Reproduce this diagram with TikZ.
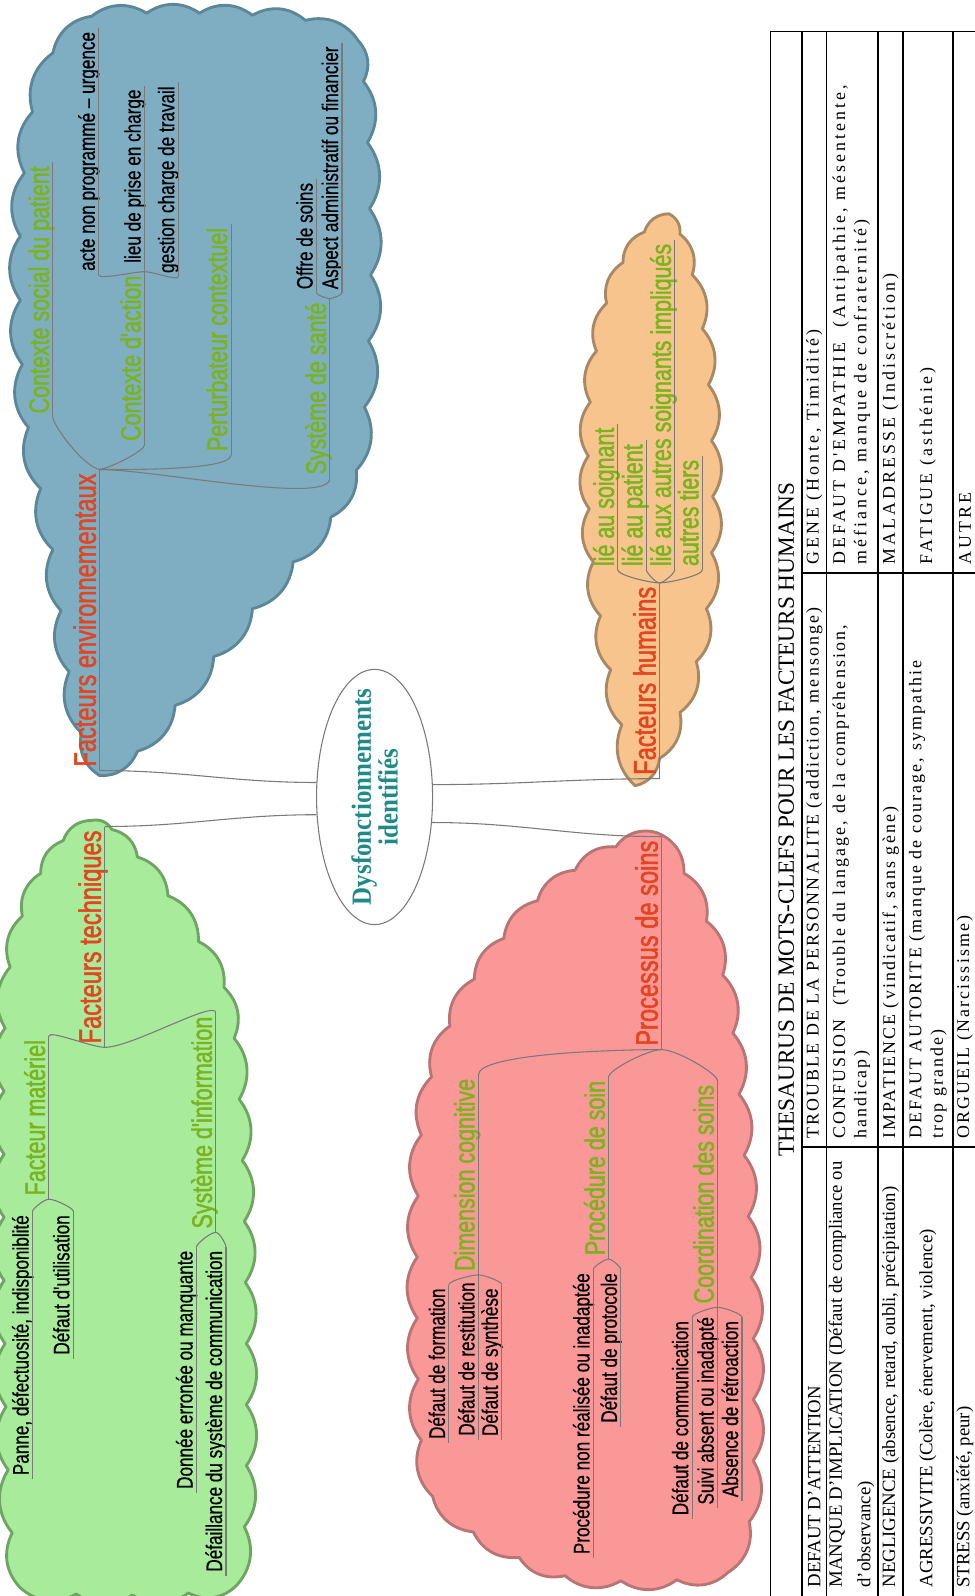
\documentclass[tikz,border=0pt]{standalone}
\usepackage{fontspec}
\setmainfont{Liberation Serif}
\newfontfamily\mapfont[FakeStretch=0.76, FakeBold=0.6]{Liberation Sans}
\newfontfamily\mapfontbold[FakeStretch=0.76, FakeBold=1.6]{Liberation Sans}
\newfontfamily\dysffont[FakeStretch=0.9]{Liberation Serif}
\newfontfamily\midcellfont[LetterSpace=12]{Liberation Serif}
\newfontfamily\widecellfont[LetterSpace=17]{Liberation Serif}
\usetikzlibrary{shapes.geometric}

\definecolor{envfill}{HTML}{7FAEC3}
\definecolor{envline}{HTML}{5C8798}
\definecolor{tecfill}{HTML}{A7EB9B}
\definecolor{tecline}{HTML}{6FA563}
\definecolor{soifill}{HTML}{FA9898}
\definecolor{soiline}{HTML}{B97474}
\definecolor{humfill}{HTML}{F8C48E}
\definecolor{humline}{HTML}{A98963}
\definecolor{mainred}{HTML}{E4441E}
\definecolor{subgreen}{HTML}{7AB41C}
\definecolor{dysfteal}{HTML}{1F8A88}
\definecolor{branchgray}{HTML}{7A7A7A}

\begin{document}
\begin{tikzpicture}[x=0.02cm, y=-0.02cm,
    cloudshape/.style={line width=1.6pt, line join=round},
    lvlone/.style={rotate=90, inner xsep=2pt, inner ysep=0.5pt, text depth=1.5pt, text=mainred,
      font=\mapfontbold\fontsize{17.4}{19}\selectfont},
    lvltwo/.style={rotate=90, inner xsep=2pt, inner ysep=0.5pt, text depth=1.5pt, text=subgreen,
      font=\mapfontbold\fontsize{15.8}{17}\selectfont},
    lvlthree/.style={rotate=90, inner xsep=2pt, inner ysep=0.5pt, text depth=1.5pt, text=black,
      font=\mapfont\fontsize{12.6}{14}\selectfont},
    uline/.style={draw=branchgray, line width=0.6pt},
    goup/.style={out=#1, in=-90, out looseness=0.6, in looseness=0.3},
    godown/.style={out=#1, in=90, out looseness=0.6, in looseness=0.3},
    cell/.style={rotate=90, anchor=west, inner sep=0pt, align=left,
      font=\fontsize{10.5}{15.9}\selectfont},
    tabrule/.style={line width=1.1pt}]

\path[use as bounding box, fill=white] (0,0) rectangle (957,1568);

\begin{scope}
  \draw[cloudshape, draw=envline, fill=envfill] (352,40)
    \foreach \x/\y in {300/20, 248/15, 196/13, 144/13, 90/16, 52/52, 32/110, 24/170, 20/232,
      20/295, 22/358, 28/420, 40/480, 52/540, 60/600, 68/660, 80/720, 98/762, 135/738,
      172/693, 210/645, 248/598, 288/552, 325/508, 350/462, 358/400, 362/335, 364/270,
      363/205, 361/140, 357/80, 352/40} { to[bend right=35] (\x,\y) } -- cycle;
  \draw[cloudshape, draw=tecline, fill=tecfill] (90,806)
    \foreach \x/\y in {62/826, 40/858, 22/900, 10/950, 5/1010, 4/1072, 4/1134, 4/1196,
      4/1258, 5/1320, 6/1382, 8/1444, 12/1506, 20/1560, 75/1566, 130/1567, 185/1565,
      232/1558, 240/1500, 242/1440, 242/1380, 242/1320, 241/1260, 240/1200, 238/1140,
      235/1080, 230/1020, 220/970, 195/925, 165/880, 135/842, 110/815, 90/806}
      { to[bend right=35] (\x,\y) } -- cycle;
  \draw[cloudshape, draw=soiline, fill=soifill] (645,818)
    \foreach \x/\y in {605/832, 565/855, 528/885, 495/922, 466/962, 442/1008, 424/1058,
      414/1115, 411/1175, 410/1235, 410/1295, 411/1355, 414/1415, 425/1470, 465/1505,
      510/1530, 555/1548, 610/1553, 665/1552, 715/1545, 736/1495, 740/1435, 740/1375,
      740/1315, 738/1255, 735/1195, 731/1135, 726/1075, 720/1015, 710/958, 694/905,
      672/858, 645/818} { to[bend right=35] (\x,\y) } -- cycle;
  \draw[cloudshape, draw=humline, fill=humfill] (657,210)
    \foreach \x/\y in {633/228, 612/258, 596/298, 586/345, 580/395, 578/448, 579/500,
      583/552, 590/605, 600/658, 611/712, 624/772, 648/745, 668/700, 684/650, 694/598,
      699/543, 700/488, 699/433, 696/378, 690/323, 680/270, 668/230, 657/210}
      { to[bend right=35] (\x,\y) } -- cycle;
\end{scope}

\node[ellipse, draw=branchgray, line width=0.6pt, fill=white, rotate=90,
  inner xsep=-10pt, inner ysep=0pt,
  minimum width=4.72cm, minimum height=2.28cm, align=center, text=dysfteal,
  font=\dysffont\bfseries\fontsize{15.5}{15}\selectfont] (dysf) at (368,783)
  {Dysfonctionnements\\identifiés};

\begin{scope}
  \node[lvlone, anchor=south west] (fenv) at (98,757) {Facteurs environnementaux};
  \node[lvltwo, anchor=south west] (csoc) at (52,410) {Contexte social du patient};
  \node[lvltwo, anchor=south west] (cact) at (142,437) {Contexte d'action};
  \node[lvltwo, anchor=south west] (pert) at (227,447) {Perturbateur contextuel};
  \node[lvltwo, anchor=south west] (ssan) at (324,470) {Système de santé};
  \node[lvlthree, anchor=south west] (acte) at (97,270) {acte non programmé – urgence};
  \node[lvlthree, anchor=south west] (lieu) at (142,262) {lieu de prise en charge};
  \node[lvlthree, anchor=south west] (gest) at (175,272) {gestion charge de travail};
  \node[lvlthree, anchor=south west] (offr) at (311,288) {Offre de soins};
  \node[lvlthree, anchor=south west] (aspe) at (336,288) {Aspect administratif ou financier};
\end{scope}

\begin{scope}
  \node[lvlone, anchor=south west] (fhum) at (648,765) {Facteurs humains};
  \node[lvltwo, anchor=south west] (lsoi) at (607,560) {lié au soignant};
  \node[lvltwo, anchor=south west] (lpat) at (635,560) {lié au patient};
  \node[lvltwo, anchor=south west] (laut) at (663,560) {lié aux autres soignants impliqués};
  \node[lvltwo, anchor=south west] (ltie) at (690,560) {autres tiers};
\end{scope}

\begin{scope}
  \node[lvlone, anchor=south east] (ftec) at (103,812) {Facteurs techniques};
  \node[lvltwo, anchor=south east] (fmat) at (48,1018) {Facteur matériel};
  \node[lvltwo, anchor=south east] (sinf) at (212,995) {Système d'information};
  \node[lvlthree, anchor=south east] (pann) at (32,1190) {Panne, défectuosité, indisponiblité};
  \node[lvlthree, anchor=south east] (defu) at (72,1190) {Défaut d'utilisation};
  \node[lvlthree, anchor=south east] (donn) at (193,1225) {Donnée erronée ou manquante};
  \node[lvlthree, anchor=south east] (defa) at (222,1225) {Défaillance du système de communication};
\end{scope}

\begin{scope}
  \node[lvlone, anchor=south east] (proc) at (650,822) {Processus de soins};
  \node[lvltwo, anchor=south east] (dimc) at (470,1056) {Dimension cognitive};
  \node[lvltwo, anchor=south east] (pcds) at (598,1058) {Procédure de soin};
  \node[lvltwo, anchor=south east] (coor) at (705,1062) {Coordination des soins};
  \node[lvlthree, anchor=south east] (dfor) at (441,1262) {Défaut de formation};
  \node[lvlthree, anchor=south east] (dres) at (470,1256) {Défaut de restitution};
  \node[lvlthree, anchor=south east] (dsyn) at (493,1262) {Défaut de synthèse};
  \node[lvlthree, anchor=south east] (pnre) at (583,1247) {Procédure non réalisée ou inadaptée};
  \node[lvlthree, anchor=south east] (dpro) at (610,1247) {Défaut de protocole};
  \node[lvlthree, anchor=south east] (dcom) at (680,1294) {Défaut de communication};
  \node[lvlthree, anchor=south east] (suiv) at (705,1290) {Suivi absent ou inadapté};
  \node[lvlthree, anchor=south east] (abse) at (729,1294) {Absence de rétroaction};
\end{scope}

\foreach \n in {fenv,csoc,cact,pert,ssan,acte,lieu,gest,offr,aspe,fhum,lsoi,lpat,laut,ltie,
  ftec,fmat,sinf,pann,defu,donn,defa,proc,dimc,pcds,coor,dfor,dres,dsyn,pnre,dpro,dcom,suiv,abse}
  \draw[uline] (\n.south west) -- (\n.south east);

\begin{scope}[uline]
  \draw (dysf.76) to[out=180, in=0] (fenv.south west);
  \draw (dysf.107) to[out=180, in=0] (ftec.south east);
  \draw (dysf.282) to[out=0, in=180] (fhum.south west);
  \draw (dysf.246) to[out=0, in=180] (proc.south east);
  \draw (fenv.south east) to[goup=170] (csoc.south west);
  \draw (fenv.south east) to[goup=10] (cact.south west);
  \draw (fenv.south east) to[goup=0] (pert.south west);
  \draw (fenv.south east) to[goup=0] (ssan.south west);
  \draw (cact.south east) to[goup=180] (acte.south west);
  \draw (cact.south east) -- (lieu.south west);
  \draw (cact.south east) to[goup=0] (gest.south west);
  \draw (ssan.south east) to[goup=180] (offr.south west);
  \draw (ssan.south east) to[goup=0] (aspe.south west);
  \draw (fhum.south east) to[goup=180] (lsoi.south west);
  \draw (fhum.south east) to[goup=180] (lpat.south west);
  \draw (fhum.south east) to[goup=0] (laut.south west);
  \draw (fhum.south east) to[goup=0] (ltie.south west);
  \draw (ftec.south west) to[godown=180] (fmat.south east);
  \draw (ftec.south west) to[godown=0] (sinf.south east);
  \draw (fmat.south west) to[godown=180] (pann.south east);
  \draw (fmat.south west) to[godown=0] (defu.south east);
  \draw (sinf.south west) to[godown=180] (donn.south east);
  \draw (sinf.south west) to[godown=0] (defa.south east);
  \draw (proc.south west) to[godown=180] (dimc.south east);
  \draw (proc.south west) to[godown=180] (pcds.south east);
  \draw (proc.south west) to[godown=0] (coor.south east);
  \draw (dimc.south west) to[godown=180] (dfor.south east);
  \draw (dimc.south west) -- (dres.south east);
  \draw (dimc.south west) to[godown=0] (dsyn.south east);
  \draw (pcds.south west) to[godown=180] (pnre.south east);
  \draw (pcds.south west) to[godown=0] (dpro.south east);
  \draw (coor.south west) to[godown=180] (dcom.south east);
  \draw (coor.south west) -- (suiv.south east);
  \draw (coor.south west) to[godown=0] (abse.south east);
\end{scope}

\begin{scope}
  \draw[line width=0.8pt] (970,31) -- (757,31) -- (757,1580);
  \draw[line width=0.8pt] (788,31) -- (788,1580);
  \foreach \x in {812,863,887,936}
    \draw[tabrule] (\x,31) -- (\x,1580);
  \foreach \y in {563,1127}
    \draw[line width=0.8pt] (788,\y) -- (970,\y);
  \node[rotate=90, inner sep=0pt, font=\fontsize{13}{15}\selectfont] (titre) at (772.5,805)
    {THESAURUS DE MOTS-CLEFS POUR LES FACTEURS HUMAINS};
  \node[cell] (c11) at (800,1560) {DEFAUT D'ATTENTION};
  \node[cell, font=\midcellfont] (c12) at (800,1119) {TROUBLE DE LA PERSONNALITE (addiction, mensonge)};
  \node[cell, font=\widecellfont] (c13) at (800,555) {GENE (Honte, Timidité)};
  \node[cell] (c21) at (836.5,1560) {MANQUE D'IMPLICATION (Défaut de compliance ou\\d'observance)};
  \node[cell, font=\midcellfont] (c22) at (836.5,1119) {CONFUSION\ \ (Trouble du langage, de la compréhension,\\handicap)};
  \node[cell, font=\widecellfont] (c23) at (836.5,555) {DEFAUT D'EMPATHIE\ \ (Antipathie, mésentente,\\méfiance, manque de confraternité)};
  \node[cell] (c31) at (875,1560) {NEGLIGENCE (absence, retard, oubli, précipitation)};
  \node[cell, font=\midcellfont] (c32) at (875,1119) {IMPATIENCE (vindicatif, sans gène)};
  \node[cell, font=\widecellfont] (c33) at (875,555) {MALADRESSE (Indiscrétion)};
  \node[cell] (c41) at (911.5,1560) {AGRESSIVITE (Colère, énervement, violence)};
  \node[cell, font=\midcellfont] (c42) at (911.5,1119) {DEFAUT AUTORITE (manque de courage, sympathie\\trop grande)};
  \node[cell, font=\widecellfont] (c43) at (911.5,555) {FATIGUE (asthénie)};
  \node[cell] (c51) at (948,1560) {STRESS (anxiété, peur)};
  \node[cell, font=\midcellfont] (c52) at (948,1119) {ORGUEIL (Narcissisme)};
  \node[cell, font=\widecellfont] (c53) at (948,555) {AUTRE};
\end{scope}

\end{tikzpicture}
\end{document}
